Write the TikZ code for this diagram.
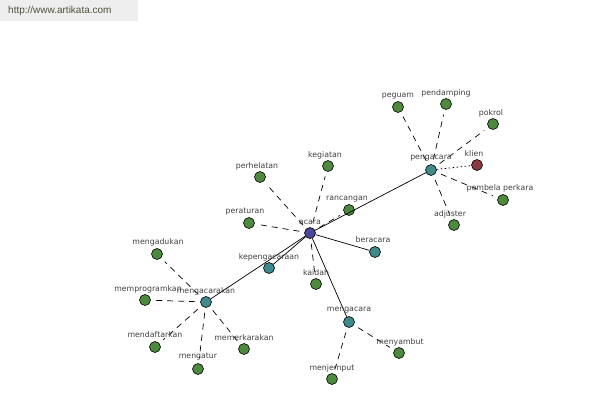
\documentclass[tikz,border=0pt]{standalone}
\usepackage{fontspec}
\setmainfont{DejaVu Sans}
\newfontfamily\urlfont{Liberation Sans}
\definecolor{leafgreen}{HTML}{4E8A3E}
\definecolor{midteal}{HTML}{3E8A8C}
\definecolor{hubblue}{HTML}{48489A}
\definecolor{redleaf}{HTML}{8C3A40}
\definecolor{labelgray}{HTML}{404040}
\definecolor{urlbg}{HTML}{EEEEEE}
\definecolor{urltext}{HTML}{4A5238}
\tikzset{
  dot/.style={circle,draw=black,line width=0.6pt,minimum size=11pt,inner sep=0pt},
  leaf/.style={dot,fill=leafgreen},
  mid/.style={dot,fill=midteal},
  hub/.style={dot,fill=hubblue},
  redl/.style={dot,fill=redleaf},
  lbl/.style={font=\fontsize{7.8}{9}\selectfont,text=labelgray,inner sep=0pt},
  solidedge/.style={line width=0.7pt},
  dashedge/.style={line width=0.7pt,dash pattern=on 6pt off 5pt,shorten <=5pt,shorten >=5pt},
  dotedge/.style={line width=0.8pt,dash pattern=on 1.5pt off 2.5pt}
}
\begin{document}
\begin{tikzpicture}[x=1pt,y=-1pt]
\useasboundingbox (0,0) rectangle (600,400);
\fill[urlbg] (0,0) rectangle (138,21);
\node[anchor=west,inner sep=0pt,font=\urlfont\fontsize{10}{12}\selectfont,text=urltext] (url) at (8,11) {http://www.artikata.com};

% nodes
\node[hub] (acara) at (310,233) {};
\node[mid] (pengacara) at (431,170) {};
\node[redl] (klien) at (477,165) {};
\node[leaf] (peguam) at (398,107) {};
\node[leaf] (pendamping) at (446,104) {};
\node[leaf] (pokrol) at (493,124) {};
\node[leaf] (pembela) at (503,200) {};
\node[leaf] (adjuster) at (454,225) {};
\node[leaf] (kegiatan) at (328,166) {};
\node[leaf] (perhelatan) at (260,177) {};
\node[leaf] (rancangan) at (349,210) {};
\node[leaf] (peraturan) at (249,223) {};
\node[mid] (beracara) at (375,252) {};
\node[mid] (kepengacaraan) at (269,268) {};
\node[leaf] (kaidah) at (316,284) {};
\node[mid] (mengacara) at (349,322) {};
\node[leaf] (menyambut) at (399,353) {};
\node[leaf] (menjemput) at (332,379) {};
\node[mid] (mengacarakan) at (206,302) {};
\node[leaf] (mengadukan) at (157,254) {};
\node[leaf] (memprogramkan) at (145,300) {};
\node[leaf] (mendaftarkan) at (155,347) {};
\node[leaf] (mengatur) at (198,369) {};
\node[leaf] (memerkarakan) at (244,349) {};

% edges
\draw[solidedge] (acara) -- (pengacara);
\draw[solidedge] (acara) -- (beracara);
\draw[solidedge] (acara) -- (mengacara);
\draw[solidedge] (acara) -- (kepengacaraan);
\draw[solidedge] (acara) -- (mengacarakan);
\draw[dashedge] (acara) -- (kegiatan);
\draw[dashedge] (acara) -- (perhelatan);
\draw[dashedge] (acara) -- (rancangan);
\draw[dashedge] (acara) -- (peraturan);
\draw[dashedge] (acara) -- (kaidah);
\draw[dashedge] (pengacara) -- (peguam);
\draw[dashedge] (pengacara) -- (pendamping);
\draw[dashedge] (pengacara) -- (pokrol);
\draw[dashedge] (pengacara) -- (pembela);
\draw[dashedge] (pengacara) -- (adjuster);
\draw[dotedge] (pengacara) -- (klien);
\draw[dashedge] (mengacara) -- (menyambut);
\draw[dashedge] (mengacara) -- (menjemput);
\draw[dashedge] (mengacarakan) -- (mengadukan);
\draw[dashedge] (mengacarakan) -- (memprogramkan);
\draw[dashedge] (mengacarakan) -- (mendaftarkan);
\draw[dashedge] (mengacarakan) -- (mengatur);
\draw[dashedge] (mengacarakan) -- (memerkarakan);

% labels
\node[lbl] (l-acara) at (310,222) {acara};
\node[lbl] (l-pengacara) at (431,158) {pengacara};
\node[lbl] (l-klien) at (474,154) {klien};
\node[lbl] (l-peguam) at (398,96) {peguam};
\node[lbl] (l-pendamping) at (446,93) {pendamping};
\node[lbl] (l-pokrol) at (491,113) {pokrol};
\node[lbl] (l-pembela) at (500,188) {pembela perkara};
\node[lbl] (l-adjuster) at (450,214) {adjuster};
\node[lbl] (l-kegiatan) at (325,155) {kegiatan};
\node[lbl] (l-perhelatan) at (257,166) {perhelatan};
\node[lbl] (l-rancangan) at (347,199) {rancangan};
\node[lbl] (l-peraturan) at (245,212) {peraturan};
\node[lbl] (l-beracara) at (373,240) {beracara};
\node[lbl] (l-kepengacaraan) at (269,257) {kepengacaraan};
\node[lbl] (l-kaidah) at (316,273) {kaidah};
\node[lbl] (l-mengacara) at (349,310) {mengacara};
\node[lbl] (l-menyambut) at (400,342) {menyambut};
\node[lbl] (l-menjemput) at (332,368) {menjemput};
\node[lbl] (l-mengacarakan) at (206,291) {mengacarakan};
\node[lbl] (l-mengadukan) at (158,242) {mengadukan};
\node[lbl] (l-memprogramkan) at (148,289) {memprogramkan};
\node[lbl] (l-mendaftarkan) at (155,335) {mendaftarkan};
\node[lbl] (l-mengatur) at (198,357) {mengatur};
\node[lbl] (l-memerkarakan) at (244,338) {memerkarakan};
\end{tikzpicture}
\end{document}
